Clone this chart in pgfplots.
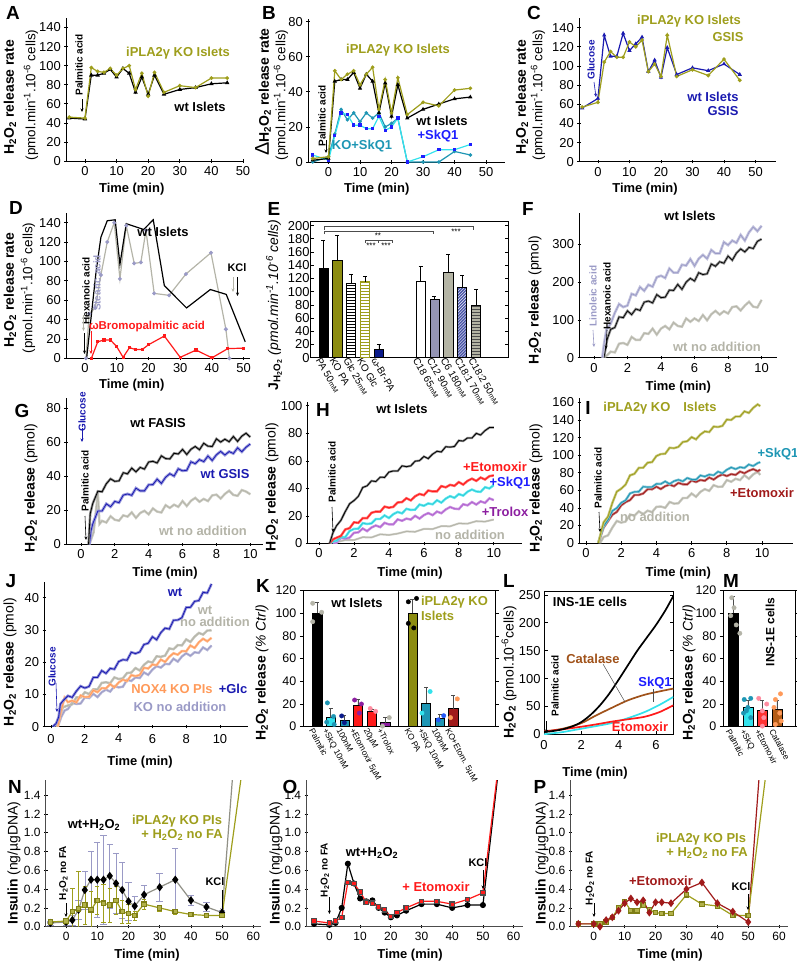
\documentclass[border=0pt]{standalone}
\usepackage{pgfplots}
\pgfplotsset{compat=1.18}
\usepackage{pgfplotstable}
\usepackage{fontspec}
\setmainfont{Liberation Sans}
\usetikzlibrary{patterns,arrows.meta}
\definecolor{olv}{RGB}{158,158,28}
\definecolor{olvd}{RGB}{140,140,16}
\definecolor{wtblue}{RGB}{26,26,176}
\definecolor{skq}{RGB}{30,30,255}
\definecolor{cyn}{RGB}{51,226,236}
\definecolor{tea}{RGB}{30,150,180}
\definecolor{lav}{RGB}{154,154,198}
\definecolor{gry}{RGB}{180,180,168}
\definecolor{rd}{RGB}{255,26,26}
\definecolor{drd}{RGB}{160,26,26}
\definecolor{pur}{RGB}{140,30,160}
\definecolor{purl}{RGB}{176,96,208}
\definecolor{org}{RGB}{255,154,90}
\definecolor{brn}{RGB}{160,82,26}
\definecolor{navy}{RGB}{10,26,138}
\definecolor{lavbar}{RGB}{148,148,180}
\definecolor{grybar}{RGB}{180,180,164}
\definecolor{pnk}{RGB}{255,140,160}
\newcommand{\fs}[1]{\fontsize{#1}{#1}\selectfont}
\newcommand{\HO}{H\textsubscript{2}O\textsubscript{2}}
\pgfplotsset{
 every axis/.append style={scale only axis, anchor=south west,
   /pgf/number format/assume math mode=true,
   tick align=outside, major tick length=3.5bp,
   axis line style={line width=0.9bp},
   tick style={black, line width=0.7bp},
   tick label style={font=\fs{13}}},
 open/.style={axis lines=left, axis line style={-}},
 ebar/.style={ybar, bar width=0.66, bar shift=0pt, draw=black, line width=0.6bp,
   error bars/y dir=plus, error bars/y explicit,
   error bars/error bar style={line width=0.6bp, black}},
 kbar/.style={ybar, bar width=0.68, bar shift=0pt, draw=black, line width=0.5bp,
   error bars/y dir=plus, error bars/y explicit,
   error bars/error bar style={line width=0.6bp, black!70}},
 dots/.style={only marks, mark=*, mark size=2.2bp},
 nlab/.style={/pgf/number format/.cd, fixed, fixed zerofill, precision=1, /tikz/.cd},
}
% ---------- noisy traces ----------
\pgfplotstableread{
t y
0.5 0
0.6 35
0.75 74
1.0 90
1.25 119
1.5 142
1.75 134
2.0 138
2.25 169
2.5 165
2.75 187
3.0 177
3.25 193
3.5 188
3.75 213
4.0 217
4.25 211
4.5 236
4.75 225
5.0 225
5.25 246
5.5 244
5.75 261
6.0 243
6.25 262
6.5 272
6.75 262
7.0 285
7.25 276
7.5 276
7.75 306
8.0 298
8.25 310
8.5 304
8.75 325
9.0 310
9.25 332
9.5 346
9.75 335
10.0 349
}\tFlav
\pgfplotstableread{
t y
0.6 0
0.7 25
0.8 50
1.0 75
1.25 80
1.5 108
1.75 106
2.0 124
2.25 114
2.5 129
2.75 125
3.0 147
3.25 150
3.5 145
3.75 167
4.0 159
4.25 160
4.5 179
4.75 178
5.0 194
5.25 181
5.5 200
5.75 210
6.0 203
6.25 225
6.5 220
6.75 222
7.0 248
7.25 242
7.5 254
7.75 250
8.0 269
8.25 258
8.5 277
8.75 288
9.0 280
9.25 292
9.5 289
9.75 308
10.0 314
}\tFblk
\pgfplotstableread{
t y
0.5 0
0.75 5
1.0 16
1.25 14
1.5 37
1.75 39
2.0 34
2.25 55
2.5 47
2.75 47
3.0 65
3.25 63
3.5 77
3.75 61
4.0 77
4.25 84
4.5 75
4.75 93
5.0 84
5.25 82
5.5 104
5.75 95
6.0 104
6.25 97
6.5 113
6.75 99
7.0 115
7.25 124
7.5 114
7.75 123
8.0 117
8.25 134
8.5 136
8.75 125
9.0 138
9.25 148
9.5 135
9.75 133
10.0 153
}\tFgry
\pgfplotstableread{
t y
0.45 0
0.55 18
0.7 24
1.0 31.2
1.25 30.9
1.5 35.6
1.75 38.5
2.0 37
2.25 37.3
2.5 42.1
2.75 41.4
3.0 44.8
3.25 42.6
3.5 45.2
3.75 44.2
4.0 48.4
4.25 48.8
4.5 47.8
4.75 52
5.0 50.4
5.25 50.2
5.5 53.5
5.75 53.1
6.0 55.8
6.25 52.8
6.5 55.9
6.75 57.5
7.0 55.6
7.25 59.4
7.5 57.7
7.75 57.5
8.0 62
8.25 60.1
8.5 61.8
8.75 60.3
9.0 63.4
9.25 60.5
9.5 63.6
9.75 65.3
10.0 63
}\tGblk
\pgfplotstableread{
t y
0.5 0
0.6 8
0.7 12
1.0 19.6
1.25 19.6
1.5 23.8
1.75 22.1
2.0 25.2
2.25 24.5
2.5 28.9
2.75 29.6
3.0 28.8
3.25 33
3.5 31.4
3.75 31.4
4.0 35
4.25 35.1
4.5 38.3
4.75 35.8
5.0 39.4
5.25 41.5
5.5 40.1
5.75 44.4
6.0 43.2
6.25 43.5
6.5 48.5
6.75 47.4
7.0 49.8
7.25 48.6
7.5 51.9
7.75 49.3
8.0 52.6
8.25 54.6
8.5 52.5
8.75 54.5
9.0 53.4
9.25 56.7
9.5 54.4
9.75 57.1
10.0 59
}\tGblu
\pgfplotstableread{
t y
0.5 0
0.75 7
1.0 30
1.1 12
1.25 13.8
1.5 12.8
1.75 16.5
2.0 14.4
2.25 13.9
2.5 17
2.75 16.3
3.0 18.8
3.25 15.5
3.5 18.4
3.75 19.7
4.0 17.6
4.25 21.1
4.5 19.2
4.75 18.7
5.0 23
5.25 21.4
5.5 23.3
5.75 22
6.0 25.4
6.25 22.5
6.5 25.6
6.75 27.3
7.0 25
7.25 26.7
7.5 25.4
7.75 28.7
8.0 29.2
8.25 26.9
8.5 29.6
8.75 31.5
9.0 29
9.25 28.5
9.5 31.9
9.75 31
10.0 29.4
}\tGgry
\pgfplotstableread{
t y
0.6 0
0.8 8
1.0 12.9
1.25 16.8
1.5 23.2
1.75 28.9
2.0 31.2
2.25 34.3
2.5 40.7
2.75 41.9
3.0 45.5
3.25 45
3.5 48.2
3.75 48
4.0 51.9
4.25 52.7
4.5 52.6
4.75 56.4
5.0 55.8
5.25 56.4
5.5 59.8
5.75 60.2
6.0 63.2
6.25 61.7
6.5 64.9
6.75 67
7.0 66.5
7.25 70.3
7.5 70
7.75 70.5
8.0 74.8
8.25 74.4
8.5 76.7
8.75 76.6
9.0 80
9.25 78.8
9.5 82
9.75 84.2
10.0 84.2
}\tHblk
\pgfplotstableread{
t y
0.6 0
0.8 3
1.0 4.2
1.25 5.5
1.5 10.2
1.75 11.2
2.0 15.4
2.25 15
2.5 18.4
2.75 18.4
3.0 22.3
3.25 23.2
3.5 23.1
3.75 26.8
4.0 26
4.25 26.6
4.5 29.8
4.75 30.1
5.0 32.9
5.25 31.3
5.5 34.3
5.75 36
6.0 35.1
6.25 38.5
6.5 37.8
6.75 37.9
7.0 41.7
7.25 40.8
7.5 42.6
7.75 41.9
8.0 44.6
8.25 42.8
8.5 45.5
8.75 47.1
9.0 45.5
9.25 47.9
9.5 46.5
9.75 48.9
10.0 49.5
}\tHred
\pgfplotstableread{
t y
0.6 0
0.8 1.5
1.0 2
1.25 4.7
1.5 4.6
1.75 9.1
2.0 10.6
2.25 10.8
2.5 14.8
2.75 14.2
3.0 14.6
3.25 17.8
3.5 17.8
3.75 20.4
4.0 18.5
4.25 21.3
4.5 22.9
4.75 21.9
5.0 25.2
5.25 24.4
5.5 24.6
5.75 28.3
6.0 27.4
6.25 29.1
6.5 28.5
6.75 31.4
7.0 29.7
7.25 32.6
7.5 34.4
7.75 33.2
8.0 35.9
8.25 34.8
8.5 37.6
8.75 39.2
9.0 37.8
9.25 37.5
9.5 40.9
9.75 40
10.0 42.4
}\tHcyn
\pgfplotstableread{
t y
0.8 0
1.0 0.5
1.25 4.1
1.5 3.5
1.75 4.3
2.0 7.8
2.25 8.1
2.5 10.9
2.75 9
3.0 11.6
3.25 13.1
3.5 11.9
3.75 15
4.0 13.9
4.25 13.9
4.5 17.5
4.75 16.5
5.0 18.1
5.25 17.4
5.5 20.1
5.75 18.1
6.0 20.6
6.25 22.1
6.5 20.6
6.75 23.2
7.0 22
7.25 24.7
7.5 26.5
7.75 25.3
8.0 25
8.25 28.5
8.5 27.7
8.75 30.1
9.0 28.3
9.25 30.6
9.5 29.5
9.75 32.8
10.0 31.5
}\tHpur
\pgfplotstableread{
t y
0.8 0
1.0 1
1.5 2.5
2.0 2.5
2.5 4.6
3.0 4.4
3.5 6.7
4.0 6.2
4.5 7.2
5.0 8.8
5.5 8.5
6.0 10.6
6.5 10.5
7.0 12.6
7.5 12.5
8.0 14.6
8.5 14.4
9.0 16.2
9.5 15.9
10.0 17.4
}\tHgry
\pgfplotstableread{
t y
0.7 0
0.85 12
1.0 23.5
1.25 30
1.5 45.8
1.75 58.5
2.0 61.8
2.25 66.5
2.5 77
2.75 78.7
3.0 85.5
3.25 85.7
3.5 91.4
3.75 92
4.0 99
4.25 101.2
4.5 101.6
4.75 108.4
5.0 107.9
5.25 109.4
5.5 115
5.75 115.8
6.0 120.5
6.25 118
6.5 123.5
6.75 127
7.0 126.2
7.25 132.5
7.5 132
7.75 133.3
8.0 140.5
8.25 140
8.5 144
8.75 144
9.0 149.8
9.25 148
9.5 153.8
9.75 157.7
9.9 155.8
}\tIolv
\pgfplotstableread{
t y
0.7 0
0.85 10
1.0 19
1.25 26.3
1.5 36.6
1.75 39.8
2.0 45.8
2.25 48.6
2.5 56.4
2.75 58.2
3.0 58.5
3.25 64.1
3.5 63.6
3.75 63.7
4.0 67.3
4.25 67.2
4.5 70.1
4.75 67.2
5.0 70.4
5.25 72
5.5 70.2
5.75 74
6.0 72.3
6.25 72.1
6.5 76.9
6.75 75.6
7.0 77.9
7.25 77.1
7.5 81.2
7.75 79.3
8.0 83.4
8.25 86
8.5 84.1
8.75 86.3
9.0 85.4
9.25 89.3
9.5 87.6
9.75 90.9
9.9 92
}\tIcyn
\pgfplotstableread{
t y
0.7 0
0.85 9
1.0 17.6
1.25 24.9
1.5 32.2
1.75 35.4
2.0 42.8
2.25 46.5
2.5 48.8
2.75 54.6
3.0 54.7
3.25 56.3
3.5 61.2
3.75 61.1
4.0 64.1
4.25 61.4
4.5 64.7
4.75 66.4
5.0 64.6
5.25 68.4
5.5 66.8
5.75 66.6
6.0 71.1
6.25 69.4
6.5 71.7
6.75 70.8
7.0 74.5
7.25 72.2
7.5 75.8
7.75 78
8.0 76.2
8.25 78.4
8.5 77.5
8.75 81.3
9.0 79.4
9.25 82.2
9.5 84.1
9.75 81.7
9.9 83.4
}\tIdrd
\pgfplotstableread{
t y
0.8 0
1.0 6.8
1.25 8.7
1.5 17.6
1.75 25.1
2.0 23.2
2.25 24.4
2.5 32.4
2.75 31.1
3.0 36
3.25 32.9
3.5 36.8
3.75 35.1
4.0 41.1
4.25 41.5
4.5 40
4.75 46.7
5.0 44.8
5.25 45.2
5.5 51.1
5.75 51.3
6.0 56.3
6.25 52.6
6.5 58.2
6.75 61.3
7.0 59.3
7.25 65.8
7.5 63.9
7.75 64.2
8.0 71.6
8.25 69.7
8.5 73.1
8.75 71.6
9.0 77.1
9.25 73.1
9.5 78.1
9.75 81
9.9 77.5
}\tIgry
\pgfplotstableread{
t y
0.1 0
0.3 1
0.45 3
0.55 7
0.7 8
1.0 9.6
1.25 9.1
1.5 11.05
1.75 12.6
2.0 12
2.25 12.5
2.5 15.3
2.75 15.3
3.0 17.4
3.25 16.55
3.5 18.1
3.75 17.85
4.0 20.2
4.25 20.8
4.5 20.65
4.75 23.1
5.0 22.7
5.25 23.2
5.5 25.5
5.75 25.9
6.0 27.9
6.25 27
6.5 29.2
6.75 30.6
7.0 30.3
7.25 33.05
7.5 33.1
7.75 33.85
8.0 37
8.25 37.05
8.5 38.9
8.75 39.15
9.0 41.7
9.25 41.5
9.5 44.3
}\tJblu
\pgfplotstableread{
t y
0.3 0
0.5 3
0.7 6
1.0 6.6
1.25 6.95
1.5 9.1
1.75 9.05
2.0 10.7
2.25 10.15
2.5 11.6
2.75 11.55
3.0 13.6
3.25 13.8
3.5 13.5
3.75 15.3
4.0 14.8
4.25 15
4.5 16.65
4.75 16.8
5.0 18.2
5.25 17.45
5.5 19.2
5.75 20.25
6.0 19.9
6.25 21.85
6.5 21.7
6.75 22.05
7.0 24.3
7.25 24.05
7.5 25.3
7.75 25.25
8.0 27.1
8.25 26.3
8.5 27.95
8.75 29.1
9.0 28.6
9.25 29.85
9.5 29.9
}\tJgry
\pgfplotstableread{
t y
0.4 0
0.6 5
0.8 9
1.0 7.6
1.25 8.1
1.5 7.55
1.75 9.7
2.0 9.2
2.25 9.3
2.5 11.3
2.75 10.7
3.0 12
3.25 11.9
3.5 13.2
3.75 12.2
4.0 13.7
4.25 14.6
4.5 14.15
4.75 16
5.0 15.7
5.25 16.05
5.5 18.3
5.75 18.05
6.0 19.3
6.25 19.1
6.5 20.85
6.75 20.1
7.0 21.7
7.25 22.8
7.5 22.35
7.75 23.5
8.0 23.4
8.25 25.2
8.5 24.45
8.75 26.2
9.0 27.3
9.25 26.5
9.5 27.6
}\tJorg
\pgfplotstableread{
t y
0.4 0
0.6 3
0.8 5
1.0 5.5
1.25 7.4
1.5 7.05
1.75 7.2
2.0 9.1
2.25 8.9
2.5 10.2
2.75 9.2
3.0 10.7
3.25 11.5
3.5 10.9
3.75 12.6
4.0 12.2
4.25 12.4
4.5 14.55
4.75 14.2
5.0 15.3
5.25 15.1
5.5 16.85
5.75 16.1
6.0 17.7
6.25 18.8
6.5 18.35
6.75 19.5
7.0 19.4
7.25 21.1
7.5 20.2
7.75 21.8
8.0 22.8
8.25 22
8.5 23.1
8.75 22.9
9.0 24.6
9.25 23.8
9.5 25.2
}\tJlav
\begin{document}
\begin{tikzpicture}
\path[use as bounding box] (0,0) rectangle (797bp,-964bp);
%%%%%%%%%%%%%%%% A
\begin{axis}[open, at={(66bp,-161bp)}, width=177bp, height=143bp,
 xmin=-6, xmax=50, ymin=0, ymax=150, xtick={0,10,...,50}, ytick={0,20,...,140}]
\addplot[black, line width=1.2bp, mark=triangle*, mark size=1.4bp] coordinates {(-5,45) (0,44) (2,90) (4,90) (6,92) (8,96) (10,88) (12,97) (14,92) (16,72) (18,88) (20,70) (22,90) (25,70) (30,75) (35,77) (40,81) (45,82)};
\addplot[olv, line width=1.2bp, mark=*, mark size=1.2bp] coordinates {(-5,46) (0,45) (2,98) (4,94) (6,93) (8,97) (10,90) (12,97) (14,100) (16,75) (18,92) (20,68) (22,93) (25,72) (30,79) (35,77) (40,87) (45,87)};
\end{axis}
%%%%%%%%%%%%%%%% B
\begin{axis}[open, at={(308bp,-162bp)}, width=197bp, height=143bp,
 xmin=-6.5, xmax=56, ymin=0, ymax=81.5, xtick={0,10,...,50}, ytick={0,20,...,80}]
\addplot[tea, line width=1.2bp, mark=*, mark size=1.1bp] coordinates {(-5,0) (0,3) (2,16) (4,30) (6,24) (8,28) (10,23) (12,28) (14,25) (16,28) (18,20) (20,22) (22,25) (25,0) (30,0) (35,0) (40,6) (45,4)};
\addplot[cyn, line width=1.2bp, mark=square*, mark size=1.1bp, mark options={skq}] coordinates {(-5,4) (0,1) (2,15) (4,28) (6,27) (8,21) (10,21) (12,19) (14,19) (16,26) (18,18) (20,20) (22,25) (25,0) (30,3) (35,7) (40,7) (45,10)};
\addplot[black, line width=1.2bp, mark=triangle*, mark size=1.3bp] coordinates {(-5,1) (0,2) (2,46) (4,47) (6,47) (8,51) (10,42) (12,50) (14,46) (16,28) (18,45) (20,26) (22,44) (25,25) (30,30) (35,33) (40,36) (45,37)};
\addplot[olv, line width=1.2bp, mark=*, mark size=1.2bp] coordinates {(-5,2) (0,3) (2,52) (4,47) (6,50) (8,52) (10,44) (12,50) (14,54) (16,30) (18,47) (20,28) (22,48) (25,27) (30,34) (35,32) (40,41) (45,42)};
\end{axis}
%%%%%%%%%%%%%%%% C
\begin{axis}[open, at={(579bp,-161.7bp)}, width=197bp, height=143.7bp,
 xmin=-6, xmax=56.5, ymin=0, ymax=150, xtick={0,10,...,50}, ytick={0,20,...,140}]
\addplot[wtblue, line width=1.2bp, mark=triangle*, mark size=1.3bp] coordinates {(-5,56) (0,66) (2,132) (4,110) (6,110) (8,134) (10,116) (12,123) (14,130) (16,94) (18,106) (20,88) (22,119) (25,91) (30,98) (35,95) (40,102) (45,91)};
\addplot[olv, line width=1.2bp, mark=*, mark size=1.2bp] coordinates {(-5,57) (0,62) (2,104) (4,115) (6,109) (8,109) (10,125) (12,120) (14,127) (16,94) (18,102) (20,89) (22,132) (25,89) (30,96) (35,90) (40,107) (45,85)};
\end{axis}
%%%%%%%%%%%%%%%% D
\begin{axis}[open, at={(66bp,-358.3bp)}, width=184bp, height=145.3bp,
 xmin=-6, xmax=52, ymin=0, ymax=150, xtick={0,10,...,50}, ytick={0,20,...,140}]
\addplot[gry, line width=1.2bp, mark=*, mark size=1.3bp, mark options={lav}] coordinates {(0.3,0) (1.3,46) (3.2,52) (5,86) (7,120) (9.2,140) (11,82) (13,137) (15.5,98) (17.6,99) (19.2,132) (21.8,67) (26.5,65) (31.8,87) (39.7,109) (44.4,30) (45.5,0)};
\addplot[black, line width=1.2bp] coordinates {(0.5,0) (2,45) (3.5,90) (5,125) (7,142) (9.5,143) (11,97) (13,139) (18.5,133) (21.5,143) (25,75) (32,52) (39.5,71) (44.5,66) (50.5,17)};
\addplot[rd, line width=1.2bp, mark=square*, mark size=1bp] coordinates {(2,0) (4,17) (6,19) (8,19) (10,12) (12,1) (14,11) (16,9) (18,9) (20,14) (25,23) (30,1) (35,8.5) (40,0.5) (45,10) (50,10.5)};
\end{axis}
%%%%%%%%%%%%%%%% E
\begin{axis}[at={(310.7bp,-357.7bp)}, width=197.3bp, height=136.7bp,
 xmin=-0.92, xmax=13.3, ymin=0, ymax=207, ytick={0,20,...,200}, ytick pos=both, yticklabel pos=left,
 tick align=inside, major tick length=3bp, tick label style={font=\fs{13}},
 yticklabel style={inner sep=1bp},
 xtick={0,1,2,3,4,7,8,9,10,11}, xtick style={draw=none},
 xticklabels={PA 50{\fs{7}mM}, KO PA, Glc 25{\fs{7}mM}, KO Glc, ω-Br-PA, C18 65{\fs{7}mM}, C12 90{\fs{7}mM}, C6 180{\fs{7}mM}, C18:1 70{\fs{7}mM}, C18:2 50{\fs{7}mM}},
 xticklabel style={rotate=-60, anchor=north west, font=\fs{10}, inner sep=1bp, xshift=-3bp}]
\addplot[ebar, fill=black] coordinates {(0,136) +- (0,42)};
\addplot[ebar, fill=olvd] coordinates {(1,147) +- (0,38)};
\addplot[ebar, fill=white, pattern=horizontal lines, pattern color=black] coordinates {(2,113) +- (0,14)};
\addplot[ebar, draw=olv, fill=white, pattern=horizontal lines, pattern color=olv] coordinates {(3,115) +- (0,8)};
\addplot[ebar, fill=navy] coordinates {(4,12) +- (0,8)};
\addplot[ebar, fill=white] coordinates {(7,116) +- (0,22)};
\addplot[ebar, fill=lavbar] coordinates {(8,89) +- (0,4)};
\addplot[ebar, fill=grybar] coordinates {(9,129) +- (0,27)};
\addplot[ebar, fill=navy!75, postaction={pattern=north east lines, pattern color=white}] coordinates {(10,107) +- (0,18)};
\addplot[ebar, fill=grybar, postaction={pattern=horizontal lines, pattern color=black!70}] coordinates {(11,80) +- (0,23)};
\end{axis}
%%%%%%%%%%%%%%%% F
\begin{axis}[open, at={(579.3bp,-357.7bp)}, width=197.4bp, height=144.7bp,
 xmin=-0.87, xmax=10.9, ymin=0, ymax=383, xtick={0,2,...,10}, ytick={0,100,200,300}]
\addplot[gry!70, line width=2.4bp] table {\tFgry};
\addplot[gry, line width=0.7bp] table {\tFgry};
\addplot[black!45, line width=2.4bp] table {\tFblk};
\addplot[black, line width=0.7bp] table {\tFblk};
\addplot[lav!60, line width=2.6bp] table {\tFlav};
\addplot[lav, line width=0.7bp] table {\tFlav};
\end{axis}
%%%%%%%%%%%%%%%% G
\begin{axis}[open, at={(66bp,-544.3bp)}, width=197bp, height=146.3bp,
 xmin=-0.88, xmax=10.75, ymin=0, ymax=86, xtick={0,2,...,10}, ytick={0,20,...,80}]
\addplot[gry!70, line width=2.4bp] table {\tGgry};
\addplot[gry, line width=0.7bp] table {\tGgry};
\addplot[wtblue!45, line width=2.8bp] table {\tGblu};
\addplot[wtblue, line width=0.8bp] table {\tGblu};
\addplot[black!45, line width=2.4bp] table {\tGblk};
\addplot[black, line width=0.8bp] table {\tGblk};
\end{axis}
%%%%%%%%%%%%%%%% H
\begin{axis}[open, at={(307.7bp,-543.5bp)}, width=214bp, height=141.8bp,
 xmin=-0.65, xmax=11.6, ymin=0, ymax=103, xtick={0,2,...,10}, ytick={0,20,...,100}]
\addplot[gry!70, line width=2bp] table {\tHgry};
\addplot[gry, line width=0.7bp] table {\tHgry};
\addplot[purl!70, line width=2.4bp] table {\tHpur};
\addplot[purl, line width=0.7bp] table {\tHpur};
\addplot[cyn!80, line width=2.4bp] table {\tHcyn};
\addplot[cyn!90!black, line width=0.7bp] table {\tHcyn};
\addplot[rd!70, line width=2.4bp] table {\tHred};
\addplot[rd, line width=0.8bp] table {\tHred};
\addplot[black!45, line width=2.2bp] table {\tHblk};
\addplot[black, line width=0.8bp] table {\tHblk};
\end{axis}
%%%%%%%%%%%%%%%% I
\begin{axis}[open, at={(579.3bp,-543bp)}, width=213.7bp, height=145bp,
 xmin=-0.38, xmax=11.76, ymin=0, ymax=165, xtick={0,2,...,10}, ytick={0,20,...,160}]
\addplot[gry!70, line width=2.4bp] table {\tIgry};
\addplot[gry, line width=0.7bp] table {\tIgry};
\addplot[drd!60, line width=2.4bp] table {\tIdrd};
\addplot[drd, line width=0.8bp] table {\tIdrd};
\addplot[tea!60, line width=2.4bp] table {\tIcyn};
\addplot[tea, line width=0.8bp] table {\tIcyn};
\addplot[olv!60, line width=2.4bp] table {\tIolv};
\addplot[olv, line width=0.8bp] table {\tIolv};
\end{axis}
%%%%%%%%%%%%%%%% J
\begin{axis}[open, at={(44.3bp,-726.7bp)}, width=203.7bp, height=145bp,
 xmin=-0.4, xmax=11.66, ymin=0, ymax=45, xtick={0,2,...,10}, ytick={0,10,...,40},
 xticklabel style={yshift=-2bp}]
\addplot[lav!70, line width=2.4bp] table {\tJlav};
\addplot[lav, line width=0.7bp] table {\tJlav};
\addplot[gry!80, line width=2.4bp] table {\tJgry};
\addplot[gry, line width=0.7bp] table {\tJgry};
\addplot[org!70, line width=2.4bp] table {\tJorg};
\addplot[org, line width=0.7bp] table {\tJorg};
\addplot[wtblue!50, line width=2.6bp] table {\tJblu};
\addplot[wtblue, line width=0.8bp] table {\tJblu};
\end{axis}
%%%%%%%%%%%%%%%% K
\begin{axis}[at={(303.3bp,-726.7bp)}, width=191.7bp, height=136.7bp,
 xmin=-1.02, xmax=13.07, ymin=0, ymax=120.4, ytick={0,20,...,120}, ytick pos=both, yticklabel pos=left,
 tick label style={font=\fs{12.5}},
 xtick={0,1,2,3,4,5,7,8,9,10}, xtick style={draw=none},
 xticklabels={Palmitic, +SkQ 10nM, 100nM, +Etomoxir 5µM, 20µM, +Trolox, KO PA, +SkQ 10nM, 100nM, KO+Etom. 5µM},
 xticklabel style={rotate=-62, anchor=north west, font=\fs{8.5}, inner sep=1bp, xshift=-5bp}]
\addplot[kbar, fill=black] coordinates {(0,100) +- (0,10)};
\addplot[kbar, fill=cyn] coordinates {(1,8) +- (0,8)};
\addplot[kbar, fill=tea] coordinates {(2,5.5) +- (0,4.5)};
\addplot[kbar, fill=rd] coordinates {(3,19) +- (0,5)};
\addplot[kbar, fill=rd] coordinates {(4,13.5) +- (0,2)};
\addplot[kbar, fill=pur] coordinates {(5,3.5) +- (0,4.5)};
\addplot[kbar, fill=olvd] coordinates {(7,100) +- (0,12)};
\addplot[kbar, fill=tea] coordinates {(8,21) +- (0,14)};
\addplot[kbar, fill=tea] coordinates {(9,7.5) +- (0,3.5)};
\addplot[kbar, fill=drd] coordinates {(10,16) +- (0,12)};
\addplot[dots, gry] coordinates {(-0.33,108.7) (0.33,100.8) (-0.33,92.5) (5.3,8) (4.8,0.5)};
\addplot[dots, tea] coordinates {(0.75,21) (0.7,4) (1.2,9) (1.25,2)};
\addplot[dots, navy] coordinates {(1.8,9.5) (2.0,3.5)};
\addplot[dots, pur] coordinates {(2.75,23.5) (3.25,20) (3.1,12)};
\addplot[dots, pnk] coordinates {(3.9,16) (4.3,13.5)};
\addplot[dots, black] coordinates {(6.7,110) (7.3,113) (6.7,91) (7.1,87)};
\addplot[dots, cyn] coordinates {(7.7,12) (8.3,31)};
\addplot[dots, skq!70!cyn] coordinates {(8.9,6) (9.3,9.7)};
\addplot[dots, org] coordinates {(10.3,24.5) (9.8,8)};
\draw[line width=0.9bp] (axis cs:5.96,0) -- (axis cs:5.96,120.4);
\end{axis}
%%%%%%%%%%%%%%%% L
\begin{axis}[at={(544bp,-734.3bp)}, width=129.3bp, height=143.3bp,
 xmin=0, xmax=6.93, ymin=0, ymax=257, xtick={0,2,4,6}, ytick={0,50,...,250},
 tick align=inside, ytick pos=both, yticklabel pos=left, xtick pos=bottom,
 xticklabel style={yshift=-3bp}]
\addplot[brn, line width=1.7bp, smooth] coordinates {(0,5) (1,10) (2,20) (2.74,33) (3.6,47) (4.5,61) (5.4,71) (6.2,77) (6.93,82)};
\addplot[cyn, line width=1.7bp, smooth] coordinates {(0,0) (0.5,2) (1,4) (2,10) (3,16) (3.6,20) (4.5,29) (5.4,40) (6.2,53) (6.93,67)};
\addplot[rd, line width=1.7bp, smooth] coordinates {(0,5) (1,9) (2,13.6) (3,19) (3.6,22.6) (4.5,27) (5.4,31.5) (6.2,40) (6.93,52)};
\addplot[black, line width=1.7bp, smooth] coordinates {(0,4) (0.5,6) (1,9) (1.5,14) (2,22) (2.5,35) (3,52) (3.5,73) (4,98) (4.5,124) (5,150) (5.5,173) (6,196) (6.5,222) (6.93,248)};
\end{axis}
%%%%%%%%%%%%%%%% M
\begin{axis}[at={(723.3bp,-726.7bp)}, width=71.7bp, height=136bp,
 xmin=-0.69, xmax=4.25, ymin=0, ymax=120, ytick={0,20,...,120},
 tick label style={font=\fs{12.5}},
 xtick={0,1,2,3}, xtick style={draw=none},
 xticklabels={Palmitic, +SkQ, +Etomoxir, Catalase},
 xticklabel style={rotate=-62, anchor=north west, font=\fs{8.5}, inner sep=1bp, xshift=-4bp}]
\addplot[kbar, fill=black] coordinates {(0,100) +- (0,15)};
\addplot[kbar, fill=cyn] coordinates {(1,17) +- (0,6)};
\addplot[kbar, fill=rd!85!pink] coordinates {(2,14.5) +- (0,8.5)};
\addplot[kbar, fill=brn!80!orange] coordinates {(3,15.5) +- (0,7.5)};
\addplot[dots, gry] coordinates {(-0.11,113.8) (-0.18,98) (0.2,89.8) (0.45,82.4) (0.05,105)};
\addplot[dots, tea] coordinates {(0.75,24) (1.2,25) (1.0,17) (0.7,12) (1.2,8) (0.9,14)};
\addplot[dots, pnk] coordinates {(1.75,25) (2.3,20) (2.0,14) (2.1,8) (2.0,0.5)};
\addplot[dots, org] coordinates {(3.25,29) (2.9,24) (2.8,17) (3.2,12) (3.3,5) (2.9,2)};
\end{axis}
%%%%%%%%%%%%%%%% N
\begin{axis}[open, at={(45.8bp,-926.7bp)}, width=215.3bp, height=146.7bp,
 xmin=-6.5, xmax=62.5, ymin=0, ymax=1.56, xtick={0,10,...,60}, ytick={0,0.2,...,1.4},
 tick label style={font=\fs{12}}, yticklabel style={nlab},
 axis line style={black!70}]
\addplot[gry!80!black, line width=1.2bp] coordinates {(50,0.15) (55,2.3)};
\addplot[olv, line width=1.2bp] coordinates {(50,0.12) (56,1.56)};
\addplot[gry!80!black, line width=1.2bp, mark=diamond*, mark size=3.2bp, mark options={black, fill=black},
 error bars/y dir=both, error bars/y explicit, error bars/error bar style={lav, line width=0.6bp}]
 coordinates {(-5,0.04) +- (0,0.02) (0,0.05) +- (0,0.03) (2,0.07) +- (0,0.05) (4,0.18) +- (0,0.1) (6,0.39) +- (0,0.2) (8,0.50) +- (0,0.3) (10,0.50) +- (0,0.4) (12,0.50) +- (0,0.47) (14,0.54) +- (0,0.34) (16,0.46) +- (0,0.32) (18,0.39) +- (0,0.3) (20,0.27) +- (0,0.2) (22,0.22) +- (0,0.1) (25,0.34) +- (0,0.1) (30,0.42) +- (0,0.15) (35,0.50) +- (0,0.33) (40,0.28) +- (0,0.05) (45,0.21) +- (0,0.05) (50,0.15) +- (0,0.03)};
\addplot[olv, line width=1.2bp, mark=square*, mark size=2.2bp, mark options={olv!80!black, fill=olv!80},
 error bars/y dir=both, error bars/y explicit, error bars/error bar style={olv, line width=0.6bp}]
 coordinates {(-5,0.05) +- (0,0.02) (0,0.06) +- (0,0.03) (2,0.16) +- (0,0.25) (4,0.19) +- (0,0.4) (6,0.23) +- (0,0.2) (8,0.18) +- (0,0.2) (10,0.28) +- (0,0.15) (12,0.25) +- (0,0.2) (14,0.23) +- (0,0.18) (16,0.28) +- (0,0.15) (18,0.16) +- (0,0.12) (20,0.14) +- (0,0.1) (22,0.12) +- (0,0.05) (25,0.24) +- (0,0.05) (30,0.20) +- (0,0.03) (35,0.16) +- (0,0.03) (40,0.13) +- (0,0.02) (45,0.12) +- (0,0.02) (50,0.12) +- (0,0.02)};
\end{axis}
%%%%%%%%%%%%%%%% O
\begin{axis}[open, at={(306.4bp,-926.7bp)}, width=216.4bp, height=146.7bp,
 xmin=-7.5, xmax=63, ymin=0, ymax=1.56, xtick={0,10,...,60}, ytick={0,0.2,...,1.4},
 tick label style={font=\fs{12}}, yticklabel style={nlab},
 axis line style={black!70}]
\addplot[black, line width=1.2bp] coordinates {(50,0.23) (55,1.65)};
\addplot[rd, line width=1.2bp] coordinates {(50,0.36) (55,1.7)};
\addplot[black, line width=1.2bp, mark=*, mark size=2.4bp] coordinates {(-5,0.03) (0,0.02) (2,0.04) (4,0.2) (6,0.67) (8,0.46) (10,0.3) (12,0.27) (14,0.28) (16,0.2) (18,0.15) (20,0.1) (22,0.12) (25,0.17) (30,0.24) (35,0.24) (40,0.2) (45,0.23) (50,0.23)};
\addplot[rd, line width=1.2bp, mark=square*, mark size=2.2bp, mark options={draw=black!70, fill=rd}] coordinates {(-5,0.06) (0,0.04) (2,0.06) (4,0.1) (6,0.47) (8,0.46) (10,0.37) (12,0.26) (14,0.25) (16,0.21) (18,0.18) (20,0.11) (22,0.15) (25,0.2) (30,0.27) (35,0.27) (40,0.24) (45,0.29) (50,0.36)};
\end{axis}
%%%%%%%%%%%%%%%% P
\begin{axis}[open, at={(570.6bp,-926.7bp)}, width=217.8bp, height=146.7bp,
 xmin=-7.5, xmax=63, ymin=0, ymax=1.56, xtick={0,10,...,60}, ytick={0,0.2,...,1.4},
 tick label style={font=\fs{12}}, yticklabel style={nlab},
 axis line style={black!70}]
\addplot[drd, line width=1.2bp] coordinates {(50,0.05) (54,1.8)};
\addplot[olv, line width=1.2bp] coordinates {(50,0.12) (56,1.7)};
\addplot[olv, line width=1.2bp, mark=square*, mark size=2.2bp, mark options={olv!80!black, fill=olv!80}] coordinates {(-5,0.03) (0,0.03) (2,0.03) (4,0.05) (6,0.1) (8,0.2) (10,0.27) (12,0.17) (14,0.17) (16,0.23) (18,0.18) (20,0.15) (22,0.14) (25,0.14) (30,0.34) (35,0.24) (40,0.22) (45,0.12) (50,0.12)};
\addplot[drd, line width=1.2bp, mark=diamond*, mark size=3bp, mark options={drd, fill=drd}] coordinates {(-5,0.03) (0,0.03) (2,0.0) (4,0.07) (6,0.1) (8,0.17) (10,0.25) (12,0.3) (14,0.26) (16,0.28) (18,0.15) (20,0.26) (22,0.26) (25,0.25) (30,0.4) (35,0.47) (40,0.25) (45,0.16) (50,0.05)};
\end{axis}
%%%%%%%%%%%%%%%% annotations
\begin{scope}[x=1bp, y=-1bp, every node/.style={inner sep=0pt, outer sep=0pt},
  ar/.style={-{Stealth[length=3.5bp,width=3bp]}, line width=0.6bp},
  B/.style={font=\fs{13}\bfseries}, S/.style={font=\fs{10}\bfseries, rotate=90},
  Y/.style={rotate=90, font=\fs{14}}, T/.style={font=\fs{13}\bfseries},
  L/.style={font=\fs{19}\bfseries}]
% panel letters
\node[L] at (13,13) {A}; \node[L] at (269,13) {B}; \node[L] at (534,13) {C};
\node[L] at (16,208) {D}; \node[L] at (274,209) {E}; \node[L] at (528,209) {F};
\node[L] at (22,411) {G}; \node[L] at (323,410) {H}; \node[L] at (588,408) {I};
\node[L] at (11,581) {J}; \node[L] at (263,586) {K}; \node[L] at (509,581) {L};
\node[L] at (731,581) {M}; \node[L] at (15,787) {N}; \node[L] at (290,787) {O};
\node[L] at (540,787) {P};
% y labels
\node[Y, font=\fs{14}\bfseries] at (10,97) {\HO{} release rate};
\node[Y, font=\fs{13.5}] at (31,95) {(pmol.min\textsuperscript{-1}.10\textsuperscript{-6} cells)};
\node[Y, font=\fs{14}\bfseries] at (263,92) {{\fs{20}\mdseries Δ}\HO{} release rate};
\node[Y, font=\fs{13.5}] at (281,95) {(pmol.min\textsuperscript{-1}.10\textsuperscript{-6} cells)};
\node[Y, font=\fs{14}\bfseries] at (522,97) {\HO{} release rate};
\node[Y, font=\fs{13.5}] at (538,95) {(pmol.min\textsuperscript{-1}.10\textsuperscript{-6} cells)};
\node[Y, font=\fs{14}\bfseries] at (10,290) {\HO{} release rate};
\node[Y, font=\fs{13.5}] at (28,288) {(pmol.min\textsuperscript{-1}.10\textsuperscript{-6} cells)};
\node[Y] at (274,305) {\textbf{J\textsubscript{\HO}} \textit{(pmol.min\textsuperscript{-1}.10\textsuperscript{-6} cells)}};
\node[Y] at (535,300) {\textbf{\HO{} release} (pmol)};
\node[Y] at (31,488) {\textbf{\HO{} release} (pmol)};
\node[Y] at (272,487) {\textbf{\HO{} release} (pmol)};
\node[Y] at (536,488) {\textbf{\HO{} release} (pmol)};
\node[Y] at (10,662) {\textbf{\HO{} release} (pmol)};
\node[Y] at (262,673) {\textbf{\HO{} release} \textit{(\% Ctrl)}};
\node[Y] at (509,672) {\textbf{\HO} (pmol.10\textsuperscript{-6}cells)};
\node[Y] at (689,673) {\textbf{\HO{} release} \textit{(\% Ctrl)}};
\node[Y] at (14,863) {\textbf{Insulin} (ng/µgDNA)};
\node[Y] at (276,863) {\textbf{Insulin} (ng/µgDNA)};
\node[Y] at (542,863) {\textbf{Insulin} (ng/µgDNA)};
% x labels
\foreach \xx/\yy in {131.7/189, 376.7/189, 645/189, 131.7/385, 678.3/387, 165/573, 410/573, 678.3/573, 140/762, 595/773, 147/955, 410/955, 670/955}
  \node[T] at (\xx,\yy) {Time (min)};
% A
\node[B, olv] at (178,53) {iPLA2γ KO Islets};
\node[B] at (200,107) {wt Islets};
\node[S] at (79,65) {Palmitic acid};
\draw[ar] (82,99) -- (82,112);
% B
\node[B, olv] at (398,50) {iPLA2γ KO Islets};
\node[B] at (442,121) {wt Islets};
\node[B, skq] at (438,136) {+SkQ1};
\node[B, tea] at (362,146) {KO+SkQ1};
\node[S] at (322,116) {Palmitic acid};
\draw[ar] (326,140) -- (326,153);
% C
\node[B, olv] at (689,21) {iPLA2γ KO Islets};
\node[B, olv] at (728,37) {GSIS};
\node[B, wtblue] at (713,97) {wt Islets};
\node[B, wtblue] at (723,111) {GSIS};
\node[S, wtblue] at (591,60) {Glucose};
\draw[ar, wtblue] (594,82) -- (596,97);
% D
\node[B] at (163,232) {wt Islets};
\node[B, font=\fs{11}\bfseries] at (237,268) {KCl};
\draw[ar] (237.5,277) -- (237.5,296);
\draw[ar, gry] (233,277) -- (233,292);
\node[S] at (86,291) {Hexanoic acid};
\node[S, lav] at (97,283) {Stearic acid};
\draw[ar, gry] (83.5,315) -- (83.5,331);
\draw[ar] (84.5,333) -- (84.5,354);
\node[B, rd, font=\fs{11.5}\bfseries] at (147,327) {ωBromopalmitic acid};
\draw[ar, rd] (91,331) -- (91,354);
% E brackets
\draw[line width=0.5bp, black!70] (324,229.5) -- (324,226.7) -- (473.5,226.7) -- (473.5,229.5);
\node[font=\fs{8}] at (456,231.5) {***};
\draw[line width=0.5bp, black!70] (324,234) -- (324,231.2) -- (433,231.2) -- (433,234);
\node[font=\fs{8}] at (378,236) {**};
\draw[line width=0.5bp, black!70] (365,243) -- (365,240.7) -- (392,240.7) -- (392,243);
\draw[line width=0.5bp, black!70] (378,240.7) -- (378,243);
\node[font=\fs{8}] at (371,246) {***};
\node[font=\fs{8}] at (386,246) {***};
% F
\node[B] at (690,216) {wt Islets};
\node[S, lav] at (593,296) {Linoleic acid};
\node[S] at (607,296) {Hexanoic acid};
\draw[ar, lav] (593,330) -- (594,347);
\draw[ar] (607,330) -- (606,349);
\node[B, gry] at (717,347) {wt no addition};
% G
\node[B] at (158,423) {wt FASIS};
\node[B, wtblue] at (225,474) {wt GSIS};
\node[B, gry] at (203,531) {wt no addition};
\node[S, wtblue] at (82,412) {Glucose};
\draw[ar, wtblue] (82,428) -- (82,442);
\node[S] at (85,481) {Palmitic acid};
\draw[ar] (85,516) -- (86,540);
% H
\node[B] at (402,409) {wt Islets};
\node[B, rd] at (495,467) {+Etomoxir};
\node[B, skq] at (510,483) {+SkQ1};
\node[B, pur] at (505,512) {+Trolox};
\node[B, gry] at (470,535) {no addition};
\node[S] at (332,472) {Palmitic acid};
\draw[ar] (332,507) -- (333,532);
% I
\node[B, olv] at (660,408) {iPLA2γ KO\hspace{1em}Islets};
\node[B, tea] at (778,454) {+SkQ1};
\node[B, drd] at (762,493) {+Etomoxir};
\node[B, gry] at (655,517) {no addition};
\node[S] at (598,478) {Palmitic acid};
\draw[ar] (599,512) -- (600,532);
% J
\node[B, wtblue] at (175,592) {wt};
\node[B, gry] at (205,610) {wt};
\node[B, gry] at (215,622) {no addition};
\node[B, org] at (172,689) {NOX4 KO PIs};
\node[B, wtblue] at (233,689) {+Glc};
\node[B, lav] at (180,707) {KO no addition};
\node[S, wtblue] at (52,667) {Glucose};
\draw[ar, wtblue] (56,683) -- (57,712);
% K
\node[B] at (357,603) {wt Islets};
\node[B, olv, anchor=west] at (421,602) {iPLA2γ KO};
\node[B, olv, anchor=west] at (421,616) {Islets};
% L
\node[B] at (590,602) {INS-1E cells};
\node[B, brn] at (593,659) {Catalase};
\draw[line width=0.5bp, black!70] (603,664) -- (625,702);
\node[B, skq] at (655,683) {SkQ1};
\draw[line width=0.5bp, black!70] (653,689) -- (653,702);
\node[B, rd] at (640,727) {Etomoxir};
\node[S] at (555,686) {Palmitic acid};
\draw[ar] (546.7,721) -- (546.7,733);
% M
\node[B, rotate=90, font=\fs{12}\bfseries] at (770,632) {INS-1E cells};
% N
\node[B] at (94,825) {wt+\HO};
\node[B, olv] at (177,821) {iPLA2γ KO PIs};
\node[B, olv] at (182,835) {+ \HO{} no FA};
\node[S] at (63.5,873) {\HO{} no FA};
\draw[ar] (66,903) -- (66,917);
\node[B, font=\fs{11}\bfseries] at (215,882) {KCl};
\draw[ar] (222,890) -- (222,912);
% O
\node[B] at (372,853) {wt+\HO};
\node[B, rd] at (436,887) {+ Etomoxir};
\node[S] at (325,870) {\HO{} no FA};
\draw[ar] (329.4,897) -- (329.4,914);
\node[B, font=\fs{11}\bfseries] at (478,863) {KCl};
\draw[ar] (483,870) -- (483,889);
% P
\node[B, olv] at (701,839) {iPLA2γ KO PIs};
\node[B, olv] at (707,853) {+ \HO{} no FA};
\node[B, drd] at (661,881) {+Etomoxir};
\node[S] at (590,878) {\HO{} no FA};
\draw[ar] (594,903) -- (594,917);
\node[B, font=\fs{11}\bfseries] at (741,887) {KCl};
\draw[ar] (748,894) -- (748,910);
\end{scope}
\end{tikzpicture}
\end{document}
